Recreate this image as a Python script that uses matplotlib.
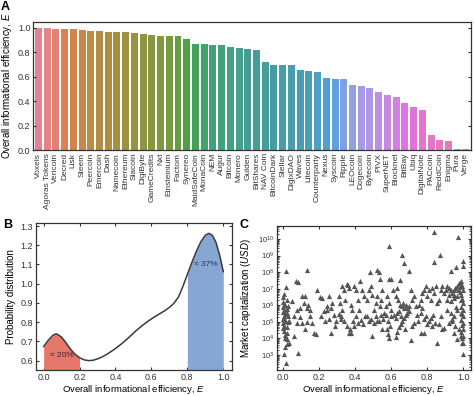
import matplotlib
matplotlib.use("Agg")
import matplotlib.pyplot as plt
import numpy as np
import seaborn as sns

plt.rcParams['font.family'] = ['Liberation Sans', 'DejaVu Sans']
plt.rcParams['mathtext.fontset'] = 'custom'
plt.rcParams['mathtext.it'] = 'Liberation Sans:italic'
plt.rcParams['mathtext.rm'] = 'Liberation Sans'
plt.rcParams['axes.edgecolor'] = '#333333'
plt.rcParams['axes.linewidth'] = 0.9
plt.rcParams['xtick.color'] = '#333333'
plt.rcParams['ytick.color'] = '#333333'

# ---- panel A: efficiency per cryptocurrency
coins = ['Voxels', 'Agoras Tokens', 'Vericoin', 'Decred', 'Lisk', 'Steem', 'Peercoin',
         'Emercoin', 'Dash', 'Namecoin', 'Ethereum', 'Siacoin', 'DigiByte', 'GameCredits',
         'Nxt', 'Einsteinium', 'Factom', 'Synereo', 'MaidSafeCoin', 'MonaCoin', 'NEM',
         'Augur', 'Bitcoin', 'Monero', 'Gulden', 'BitShares', 'NAV Coin', 'BitcoinDark',
         'Stellar', 'DigixDAO', 'Waves', 'Litecoin', 'Counterparty', 'Nexus', 'Syscoin',
         'Ripple', 'LEOcoin', 'Dogecoin', 'Bytecoin', 'PIVX', 'SuperNET', 'Blocknet',
         'BitBay', 'Ubiq', 'DigitalNote', 'PACcoin', 'ReddCoin', 'Enigma', 'Pura', 'Verge']
efficiency = [0.998, 0.997, 0.995, 0.995, 0.99, 0.985, 0.978, 0.973, 0.967, 0.967,
              0.965, 0.96, 0.95, 0.943, 0.937, 0.93, 0.93, 0.907, 0.872, 0.866,
              0.86, 0.858, 0.84, 0.834, 0.829, 0.823, 0.717, 0.70, 0.695, 0.695,
              0.657, 0.651, 0.64, 0.594, 0.583, 0.58, 0.534, 0.523, 0.512, 0.474,
              0.447, 0.436, 0.387, 0.351, 0.327, 0.123, 0.082, 0.071, 0.006, 0.006]

# ---- panel B: distribution of efficiency
kde_x = [0.0, 0.025, 0.05, 0.067, 0.075, 0.10, 0.125, 0.15, 0.175, 0.20, 0.225, 0.25,
         0.275, 0.30, 0.325, 0.35, 0.375, 0.40, 0.425, 0.45, 0.475, 0.50, 0.525, 0.55,
         0.575, 0.60, 0.625, 0.65, 0.675, 0.70, 0.725, 0.75, 0.775, 0.80, 0.825, 0.85,
         0.875, 0.90, 0.92, 0.94, 0.96, 0.98, 1.0]
kde_y = [0.673, 0.705, 0.731, 0.739, 0.738, 0.722, 0.692, 0.659, 0.633, 0.615, 0.604,
         0.600, 0.602, 0.609, 0.619, 0.632, 0.647, 0.663, 0.681, 0.700, 0.721, 0.743,
         0.764, 0.783, 0.801, 0.817, 0.832, 0.846, 0.860, 0.877, 0.898, 0.930, 0.985,
         1.048, 1.110, 1.168, 1.218, 1.252, 1.262, 1.251, 1.213, 1.148, 1.063]
low_share, high_share = '≈ 20%', '≈ 37%'

# ---- panel C: efficiency vs market cap (log10 USD)
cap_E = [0.84, 0.97, 0.59, 0.66, 0.87, 0.84, 1.0, 0.015, 0.13, 0.48, 0.52, 0.53, 0.67,
         0.70, 0.93, 0.96, 1.0, 0.54, 0.59, 0.60, 0.65, 0.07, 0.08, 0.015,
         0.006, 0.02, 0.006, 0.028, 0.006, 0.02, 0.006, 0.026, 0.006, 0.026, 0.006, 0.033,
         0.006, 0.009, 0.024, 0.02, 0.03, 0.006, 0.015, 0.0, 0.0, 0.0, 0.0, 0.0, 0.0,
         0.0, 0.01, 0.01, 0.01, 0.01, 0.01, 0.02, 0.02, 0.02,
         0.052, 0.061, 0.076, 0.079, 0.091, 0.096, 0.061, 0.085, 0.104, 0.107, 0.116,
         0.12, 0.122, 0.131, 0.139, 0.148, 0.135,
         0.15, 0.163, 0.172, 0.185, 0.19, 0.205, 0.218, 0.213, 0.227, 0.233, 0.246,
         0.255, 0.264, 0.268, 0.283, 0.287, 0.292, 0.274, 0.255, 0.242,
         0.31, 0.316, 0.329, 0.338, 0.346, 0.353, 0.36, 0.368, 0.375, 0.384, 0.394,
         0.405, 0.416, 0.427, 0.44, 0.449, 0.32, 0.338, 0.357, 0.366, 0.372, 0.39,
         0.403, 0.416, 0.431, 0.445, 0.453, 0.421, 0.329, 0.31, 0.323, 0.375, 0.394,
         0.464, 0.477, 0.486, 0.495, 0.505, 0.514, 0.523, 0.536, 0.542, 0.551, 0.56,
         0.569, 0.579, 0.588, 0.597, 0.468, 0.477, 0.486, 0.495, 0.505, 0.514, 0.523,
         0.532, 0.542, 0.556, 0.569, 0.582, 0.593, 0.601, 0.551, 0.575, 0.582, 0.588,
         0.612, 0.625, 0.634, 0.638, 0.649, 0.658, 0.664, 0.671, 0.68, 0.689, 0.699,
         0.708, 0.717, 0.726, 0.616, 0.625, 0.634, 0.643, 0.652, 0.662, 0.671, 0.68,
         0.689, 0.699, 0.652, 0.675, 0.63, 0.643, 0.625, 0.708, 0.736, 0.741, 0.749,
         0.726, 0.717,
         0.763, 0.773, 0.782, 0.791, 0.80, 0.81, 0.819, 0.828, 0.837, 0.847, 0.856,
         0.865, 0.874, 0.884, 0.893, 0.754, 0.763, 0.773, 0.782, 0.791, 0.80, 0.81,
         0.819, 0.834, 0.843, 0.852, 0.828, 0.865, 0.874, 0.884, 0.896, 0.763, 0.782,
         0.904, 0.911, 0.921, 0.93, 0.939, 0.948, 0.957, 0.967, 0.976, 0.985, 0.993,
         0.996, 0.911, 0.93, 0.948, 0.967, 0.985, 0.996, 1.0, 1.0, 1.0, 1.0, 1.0, 1.0,
         0.996, 0.911, 0.93, 0.948, 0.967, 0.985, 0.921, 0.939, 0.957, 0.976, 0.985,
         0.967, 0.993, 0.948,
         0.98, 0.99, 0.97, 0.995, 0.99, 0.995, 0.99, 0.995, 0.99, 0.995, 0.92, 0.95,
         0.94, 0.96, 0.99, 0.98]
cap_log = [10.44, 10.14, 9.6, 9.04, 9.04, 8.64, 8.7, 8.04, 8.12, 8.02, 8.1, 7.98, 8.58,
           8.04, 8.04, 8.3, 8.38, 7.58, 7.58, 7.58, 7.54, 7.44, 7.38, 7.1,
           6.68, 6.34, 6.04, 5.98, 5.74, 5.54, 5.34, 5.34, 5.04, 4.98, 4.74, 5.04,
           4.44, 4.18, 3.94, 3.64, 3.7, 3.04, 2.54, 6.5, 6.2, 5.9, 5.6, 5.2, 4.9,
           4.6, 6.0, 5.5, 5.1, 4.0, 3.5, 5.8, 4.7, 4.3,
           6.24, 5.38, 5.74, 4.94, 5.3, 5.84, 4.14, 3.12, 6.58, 4.94, 6.14,
           6.58, 4.54, 5.84, 6.04, 5.74, 4.98,
           5.34, 4.94, 4.34, 4.24, 6.94, 6.5, 6.42, 5.34, 5.64, 5.04, 5.94,
           5.14, 4.34, 5.84, 5.44, 4.74, 5.04, 6.14, 6.54, 5.74,
           6.54, 6.14, 7.14, 6.94, 6.34, 7.28, 7.24, 7.02, 6.04, 5.74, 7.14,
           6.94, 6.34, 7.44, 6.94, 6.54, 5.34, 5.04, 4.74, 4.3, 4.54, 5.04,
           5.34, 4.94, 5.1, 4.84, 5.34, 5.74, 5.74, 5.5, 5.14, 4.34, 4.74,
           6.34, 6.94, 7.14, 6.64, 5.74, 6.14, 6.54, 5.94, 6.34, 6.94, 5.54,
           5.94, 6.54, 6.14, 5.74, 5.34, 5.04, 5.14, 4.14, 4.94, 5.34, 5.04,
           5.04, 5.44, 5.14, 5.44, 5.04, 4.74, 5.34, 4.54, 4.58, 4.24, 4.04,
           6.9, 6.54, 7.04, 6.34, 6.04, 5.94, 6.14, 5.84, 6.04, 5.84, 5.94,
           6.94, 6.34, 6.54, 5.44, 5.24, 5.54, 5.64, 5.34, 5.04, 5.24, 5.44,
           5.54, 5.64, 4.84, 4.54, 4.38, 4.7, 4.1, 3.9, 5.94, 5.44, 5.04,
           4.94, 4.74,
           6.34, 6.74, 6.94, 7.14, 6.54, 6.94, 6.34, 7.04, 6.74, 7.14, 6.14,
           6.34, 6.94, 7.14, 6.74, 6.04, 5.54, 5.84, 5.14, 5.34, 4.84, 5.04,
           5.24, 5.44, 4.94, 3.7, 4.74, 4.84, 5.34, 4.54, 4.64, 4.34, 4.34,
           6.94, 7.14, 7.04, 6.94, 6.74, 6.94, 7.04, 7.14, 7.34, 7.44, 7.14,
           6.94, 6.34, 6.24, 6.44, 6.54, 6.34, 6.14, 5.74, 5.34, 4.94, 4.54, 4.14, 3.74,
           3.04, 5.74, 5.54, 5.34, 5.74, 5.54, 4.94, 5.04, 4.74, 4.54, 4.14,
           3.94, 3.74, 4.34,
           6.8, 6.6, 6.9, 6.4, 5.9, 5.5, 5.1, 4.8, 4.4, 4.0, 6.6, 6.6,
           5.2, 5.9, 7.3, 7.1]

fig = plt.figure(figsize=(4.74, 3.96), dpi=100)

# panel A
axA = fig.add_axes([0.070, 0.621, 0.924, 0.324])
pal = [sns.desaturate(c, 0.75) for c in sns.color_palette('husl', len(coins))]
axA.bar(np.arange(len(coins)), efficiency, width=0.8, color=pal)
axA.set_xlim(-0.6, len(coins) - 0.4)
axA.set_ylim(0, 1.05)
axA.set_yticks([0.0, 0.2, 0.4, 0.6, 0.8, 1.0])
axA.set_xticks(np.arange(len(coins)))
axA.set_xticklabels(coins, rotation=90, fontsize=6)
axA.tick_params(axis='y', labelsize=6.5, direction='in', right=True, length=2.5, pad=2)
axA.tick_params(axis='x', direction='in', length=0, pad=2)
axA.set_ylabel('Overall informational efficiency, $\\it{E}$', fontsize=7, labelpad=3)

# panel B
axB = fig.add_axes([0.075, 0.066, 0.415, 0.371])
axB.plot(kde_x, kde_y, color='#3a3a3a', lw=1.1, zorder=3)
kx = np.array(kde_x)
ky = np.array(kde_y)
lo = kx <= 0.2
hi = kx >= 0.8
axB.fill_between(kx[lo], 0.5, ky[lo], color='#e5776b', lw=0, zorder=2)
axB.fill_between(kx[hi], 0.5, ky[hi], color='#86a7d4', lw=0, zorder=2)
axB.text(0.1, 0.625, low_share, fontsize=6, color='#3a2a2a', ha='center', va='center', zorder=4)
axB.text(0.9, 1.1, high_share, fontsize=6, color='#2a3550', ha='center', va='center', zorder=4)
axB.set_xlim(-0.045, 1.05)
axB.set_ylim(0.552, 1.316)
axB.set_xticks([0.0, 0.2, 0.4, 0.6, 0.8, 1.0])
axB.set_yticks([0.6, 0.7, 0.8, 0.9, 1.0, 1.1, 1.2, 1.3])
axB.tick_params(labelsize=6.5, direction='in', top=True, right=True, length=2.5, pad=2)
axB.set_xlabel('Overall informational efficiency, $\\it{E}$', fontsize=6.8, labelpad=1)
axB.set_ylabel('Probability distribution', fontsize=7, labelpad=3)

# panel C
axC = fig.add_axes([0.584, 0.066, 0.410, 0.364])
axC.scatter(cap_E, 10 ** np.array(cap_log), marker='^', s=14, color='#555555',
            linewidths=0, zorder=3)
axC.set_yscale('log')
axC.set_xlim(-0.035, 1.044)
axC.set_ylim(10 ** 2.1, 10 ** 10.8)
axC.set_xticks([0.0, 0.2, 0.4, 0.6, 0.8, 1.0])
axC.set_yticks([10.0 ** k for k in range(3, 11)])
axC.yaxis.set_minor_locator(matplotlib.ticker.LogLocator(base=10, subs=np.arange(2, 10)))
axC.yaxis.set_minor_formatter(matplotlib.ticker.NullFormatter())
axC.tick_params(axis='x', labelsize=6.5, direction='in', top=True, length=2.5, pad=2)
axC.tick_params(axis='y', which='major', labelsize=5.5, direction='in', right=True,
                length=2.5, pad=2)
axC.tick_params(axis='y', which='minor', direction='in', right=True, left=True, length=1.5)
axC.set_xlabel('Overall informational efficiency, $\\it{E}$', fontsize=6.8, labelpad=1)
axC.set_ylabel('Market capitalization ($\\it{USD}$)', fontsize=7, labelpad=3)

fig.text(0.002, 0.998, 'A', fontsize=9, fontweight='bold', va='top', ha='left')
fig.text(0.006, 0.448, 'B', fontsize=9, fontweight='bold', va='top', ha='left')
fig.text(0.506, 0.448, 'C', fontsize=9, fontweight='bold', va='top', ha='left')

fig.savefig('out.png', dpi=100)
